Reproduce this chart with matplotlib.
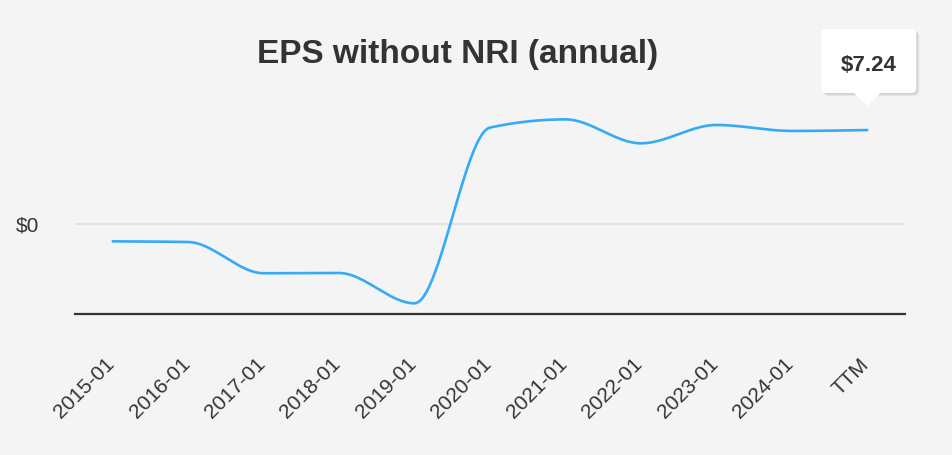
import numpy as np
import matplotlib.pyplot as plt
from matplotlib.patches import FancyBboxPatch, Polygon
from matplotlib.transforms import ScaledTranslation

# data
periods = ["2015-01", "2016-01", "2017-01", "2018-01", "2019-01", "2020-01",
           "2021-01", "2022-01", "2023-01", "2024-01", "TTM"]
eps = [-1.31, -1.36, -3.76, -3.74, -6.07, 7.43, 8.06, 6.22, 7.63, 7.17, 7.24]
tooltip_label = "$7.24"


# monotone cubic (like d3 curveMonotoneX) for the smooth line
def monotone_curve(x, y, n=40):
    x = np.asarray(x, float)
    y = np.asarray(y, float)
    h = np.diff(x)
    s = np.diff(y) / h
    m = np.zeros_like(y)
    for i in range(1, len(y) - 1):
        p = (s[i - 1] * h[i] + s[i] * h[i - 1]) / (h[i - 1] + h[i])
        m[i] = (np.sign(s[i - 1]) + np.sign(s[i])) * min(abs(s[i - 1]), abs(s[i]), 0.5 * abs(p))
    m[0] = (3 * s[0] - m[1]) / 2
    m[-1] = (3 * s[-1] - m[-2]) / 2
    xs, ys = [], []
    for i in range(len(h)):
        t = np.linspace(0, 1, n)
        h00 = 2 * t**3 - 3 * t**2 + 1
        h10 = t**3 - 2 * t**2 + t
        h01 = -2 * t**3 + 3 * t**2
        h11 = t**3 - t**2
        xs.append(x[i] + t * h[i])
        ys.append(h00 * y[i] + h10 * h[i] * m[i] + h01 * y[i + 1] + h11 * h[i] * m[i + 1])
    return np.concatenate(xs), np.concatenate(ys)


bg = "#f4f4f4"
fig = plt.figure(figsize=(9.53, 4.55), dpi=100, facecolor=bg)
ax = fig.add_axes([75 / 953, 1 - 314 / 455, 830 / 953, 254 / 455])
ax.set_facecolor(bg)

xpos = np.arange(len(periods))
cx, cy = monotone_curve(xpos, eps)

ax.axhline(0, color="#e3e3e3", lw=1.6, zorder=1)
ax.plot(cx, cy, color="#35aaf8", lw=1.9, zorder=3, solid_capstyle="round")

ax.set_xlim(-0.5, len(periods) - 0.5)
ax.set_ylim(-6.89, 12.62)

for sp in ["top", "right", "left"]:
    ax.spines[sp].set_visible(False)
ax.spines["bottom"].set_color("#333333")
ax.spines["bottom"].set_linewidth(1.6)

ax.set_yticks([0])
ax.set_yticklabels(["$0"], fontsize=15, color="#333333", family="Liberation Sans")
ax.tick_params(axis="y", length=0, pad=26)

ax.set_xticks(xpos)
ax.set_xticklabels(periods, rotation=45, ha="right", va="top", rotation_mode="anchor",
                   fontsize=15, color="#333333", family="Liberation Sans")
ax.tick_params(axis="x", length=0, pad=27)
# nudge the rotated labels so their ends sit under the ticks
shift = ScaledTranslation(-8 / 100, -3 / 100, fig.dpi_scale_trans)
for lab in ax.get_xticklabels():
    lab.set_transform(lab.get_transform() + shift)

fig.text(458 / 953, 1 - 55 / 455, "EPS without NRI (annual)", ha="center", va="center",
         fontsize=24, fontweight="bold", color="#333333", family="Liberation Sans")

# tooltip on the last point
fig.canvas.draw()
px, py = ax.transData.transform((xpos[-1], eps[-1]))
left, right, bottom, top = px - 46, px + 49, py + 37, py + 101
for k, a in enumerate([0.05, 0.05, 0.06]):
    off = k + 1
    fig.patches.append(FancyBboxPatch((left + off, bottom - off), right - left, top - bottom,
                                      boxstyle="round,pad=0,rounding_size=5", transform=None,
                                      fc="black", ec="none", alpha=a, zorder=5))
fig.patches.append(FancyBboxPatch((left, bottom), right - left, top - bottom,
                                  boxstyle="round,pad=0,rounding_size=5", transform=None,
                                  fc="white", ec="none", zorder=6))
fig.patches.append(Polygon([(px - 14, bottom + 1), (px + 14, bottom + 1), (px, py + 24)],
                           closed=True, transform=None, fc="white", ec="none", zorder=7))
fig.text((left + right) / 2 / 953, (py + 65) / 455, tooltip_label, ha="center", va="center",
         fontsize=16, fontweight="bold", color="#333333", family="Liberation Sans", zorder=8)

fig.savefig("out.png", dpi=100, facecolor=bg)
